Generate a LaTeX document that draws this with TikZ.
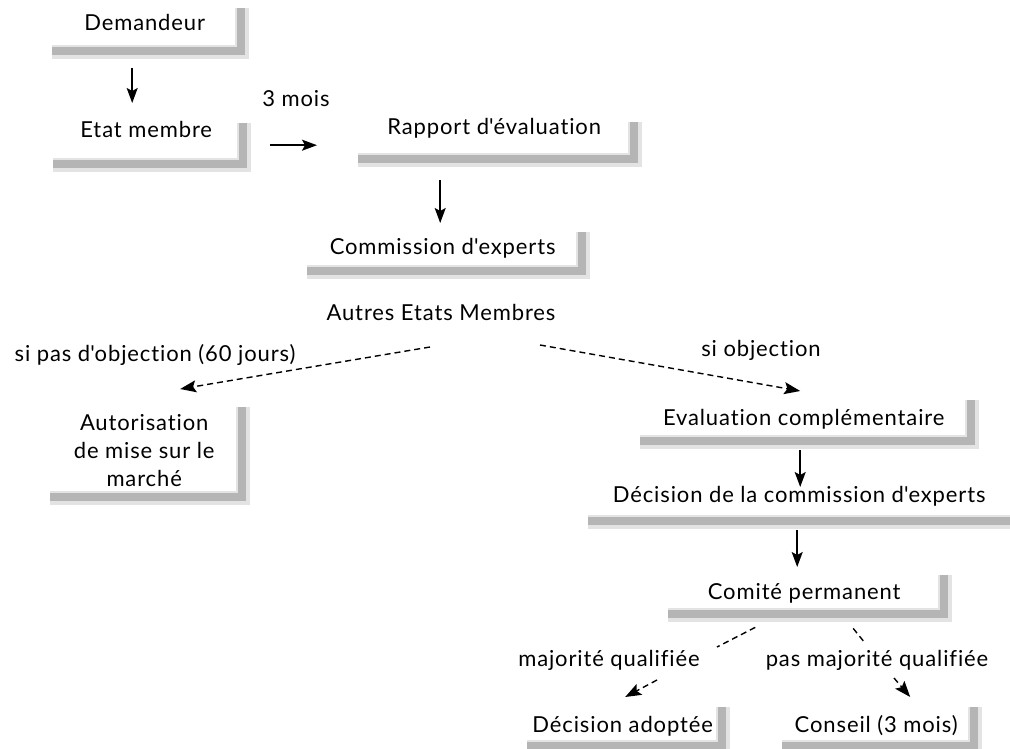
\documentclass[tikz,border=0pt]{standalone}
\usepackage{fontspec}
\setmainfont{Lato}[LetterSpace=4, Ligatures={NoCommon}]
\usetikzlibrary{arrows.meta}
\begin{document}
\begin{tikzpicture}[x=1pt,y=-1pt,
  every node/.style={font=\fontsize{22}{28}\selectfont, text=black},
  box/.style={inner sep=0pt, anchor=north west},
  lbl/.style={inner sep=0pt, anchor=center},
  shadhalo/.style={draw=gray!22, line width=14pt},
  shad/.style={draw=gray!58, line width=8pt},
  arr/.style={-{Stealth[length=15pt,width=11pt,inset=3pt]}, line width=1.5pt},
  darr/.style={-{Stealth[length=16pt,width=12pt,inset=3pt]}, line width=1.4pt, dash pattern=on 6pt off 4pt},
  dline/.style={line width=1.4pt, dash pattern=on 6pt off 4pt}
]
\useasboundingbox (0,0) rectangle (1010,749);
\fill[white] (0,0) rectangle (1010,749);

% boxes
\node[box, minimum width=185pt, text height=22pt, text depth=17pt] (dem) at (52,8) {Demandeur};
\node[box, minimum width=186pt, text height=14pt, text depth=23pt] (etat) at (53,123) {Etat membre};
\node[box, minimum width=272pt, text height=12pt, text depth=21pt] (rapport) at (358,122) {Rapport d\textquotesingle évaluation};
\node[box, minimum width=271pt, text height=22pt, text depth=13pt] (comm) at (307,232) {Commission d\textquotesingle experts};
\node[box, minimum width=188pt, minimum height=86pt, align=center] (auto) at (50,407) {Autorisation\\de mise sur le\\marché};
\node[box, minimum width=327pt, text height=25pt, text depth=12pt] (eval) at (640,400) {Evaluation complémentaire};
\node[box, minimum width=422pt, text height=24pt, text depth=15pt] (dec) at (588,478) {Décision de la commission d\textquotesingle experts};
\node[box, minimum width=272pt, text height=24pt, text depth=11pt] (comite) at (668,575) {Comité permanent};
\node[box, minimum width=191pt, text height=25pt, text depth=10pt] (adopt) at (527,707) {Décision adoptée};
\node[box, minimum width=188pt, text height=25pt, text depth=10pt] (conseil) at (782,707) {Conseil (3 mois)};

% labels
\node[lbl] (trois) at (296,99) {3 mois};
\node[lbl] (autres) at (441,312) {Autres Etats Membres};
\node[lbl] (nonobj) at (155,355) {si pas d\textquotesingle objection (60 jours)};
\node[lbl] (obj) at (761,350) {si objection};
\node[lbl] (majq) at (609,660) {majorité qualifiée};
\node[lbl] (pasmaj) at (877,660) {pas majorité qualifiée};

% shadows
\foreach \n in {dem,etat,rapport,comm,auto,eval,comite,adopt,conseil}{
  \draw[shadhalo] ([xshift=5pt]\n.north east) -- ([xshift=5pt,yshift=-5pt]\n.south east) -- ([yshift=-5pt]\n.south west);
  \draw[shad] ([xshift=4pt]\n.north east) -- ([xshift=4pt,yshift=-4pt]\n.south east) -- ([yshift=-4pt]\n.south west);
}
\draw[shadhalo] ([yshift=-5pt]dec.south west) -- ([yshift=-5pt]dec.south east);
\draw[shad] ([yshift=-4pt]dec.south west) -- ([yshift=-4pt]dec.south east);

% solid arrows
\draw[arr] ([shift={(-12.5,21)}]dem.south) -- ([shift={(-14,-20)}]etat.north);
\draw[arr] ([shift={(31,3.5)}]etat.east) -- ([shift={(-41,6.5)}]rapport.west);
\draw[arr] ([shift={(-54,25)}]rapport.south) -- ([shift={(-2.5,-9)}]comm.north);
\draw[arr] ([shift={(-3.5,13)}]eval.south) -- ([shift={(1,9)}]dec.north);
\draw[arr] ([shift={(-2,13)}]dec.south) -- ([shift={(-7,-8)}]comite.north);

% dashed arrows
\draw[darr] ([shift={(-11,35)}]autres.center) -- ([shift={(36,-18)}]auto.north);
\draw[darr] ([shift={(99,33)}]autres.center) -- ([shift={(-3.5,-9)}]eval.north);

\coordinate (c1) at (717,647);
\coordinate (c2) at (657,680);
\coordinate (c3) at (865,643);
\coordinate (c4) at (894,678);
\draw[dline] ([shift={(-49,17)}]comite.south) -- (c1);
\draw[darr] (c2) -- ([shift={(2.5,-10)}]adopt.north);
\draw[dline] ([shift={(49,18)}]comite.south) -- (c3);
\draw[darr] (c4) -- ([shift={(34,-10)}]conseil.north);
\end{tikzpicture}
\end{document}
